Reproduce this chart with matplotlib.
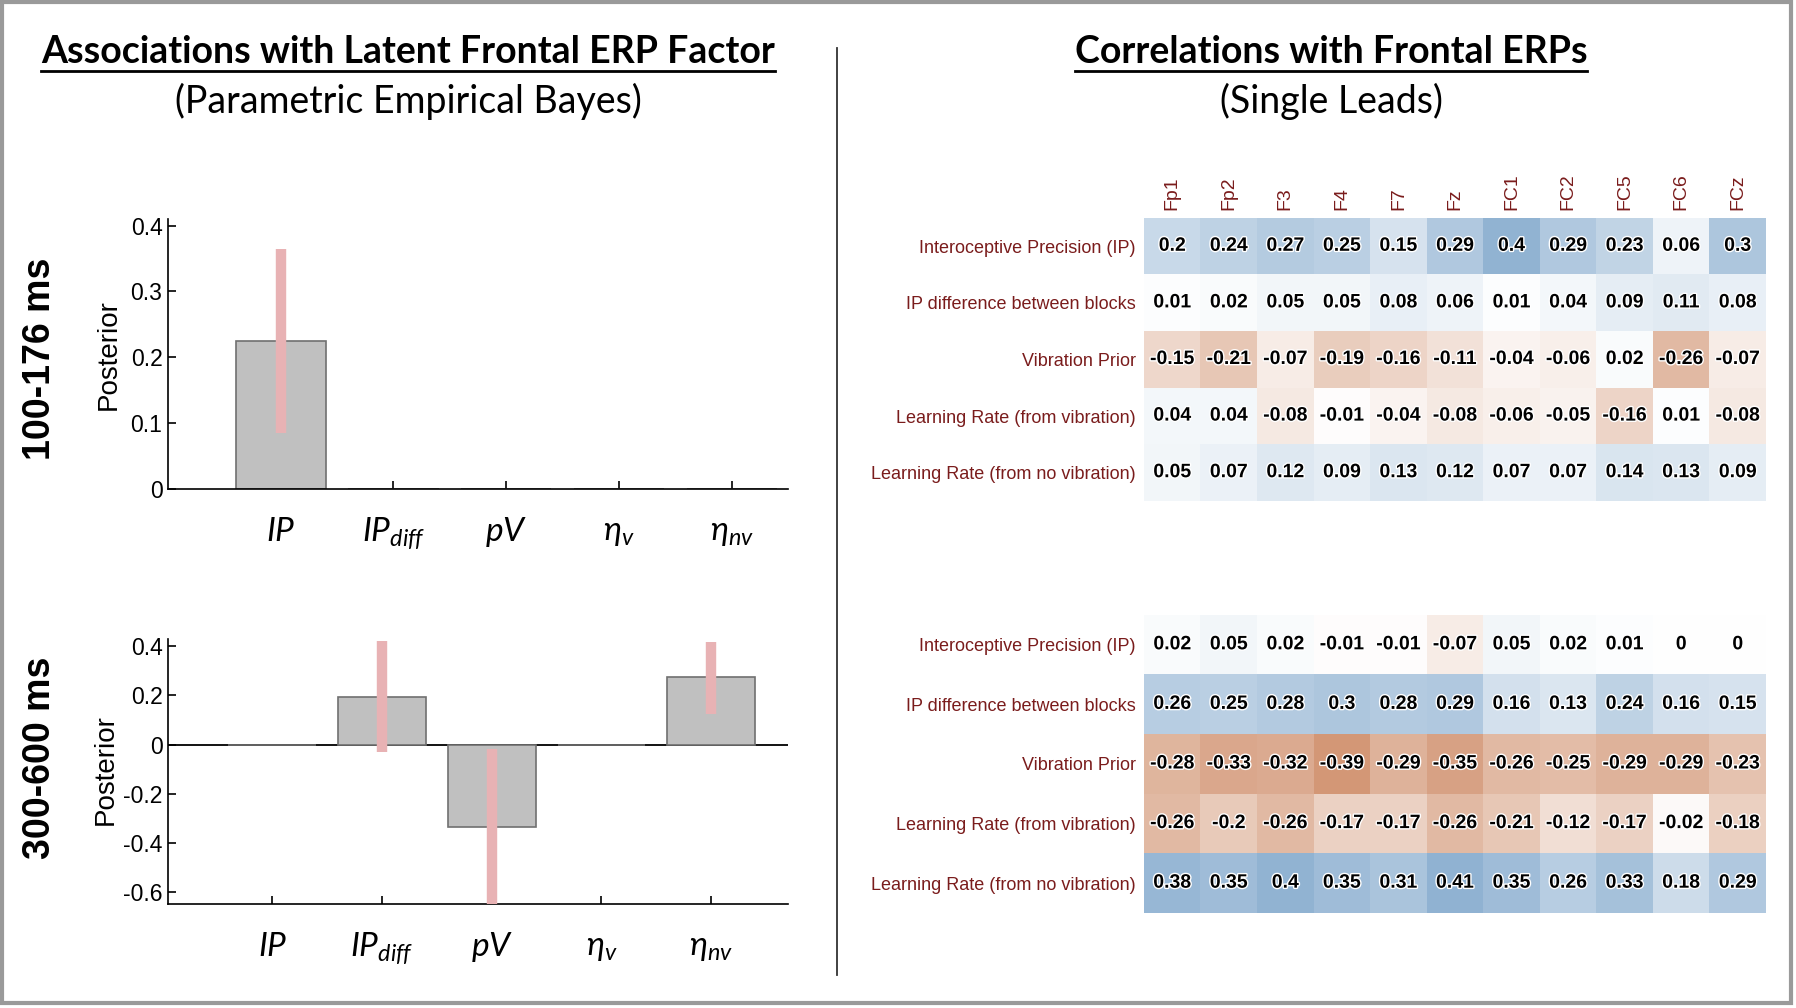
import matplotlib
matplotlib.use("Agg")
import matplotlib.pyplot as plt
import matplotlib.patheffects as pe
from matplotlib.colors import LinearSegmentedColormap
from matplotlib.lines import Line2D
from matplotlib.patches import Rectangle
import numpy as np

# --- data ---
params = [r'$IP$', r'$IP_{diff}$', r'$pV$', r'$\eta_v$', r'$\eta_{nv}$']

early_post = [0.225, 0, 0, 0, 0]
early_lo = [0.085, np.nan, np.nan, np.nan, np.nan]
early_hi = [0.365, np.nan, np.nan, np.nan, np.nan]

late_post = [0, 0.195, -0.337, 0, 0.274]
late_lo = [np.nan, -0.032, -0.66, np.nan, 0.125]
late_hi = [np.nan, 0.42, -0.018, np.nan, 0.418]

leads = ["Fp1", "Fp2", "F3", "F4", "F7", "Fz", "FC1", "FC2", "FC5", "FC6", "FCz"]
measures = ["Interoceptive Precision (IP)", "IP difference between blocks",
            "Vibration Prior", "Learning Rate (from vibration)",
            "Learning Rate (from no vibration)"]

r_early = [
    [0.2, 0.24, 0.27, 0.25, 0.15, 0.29, 0.4, 0.29, 0.23, 0.06, 0.3],
    [0.01, 0.02, 0.05, 0.05, 0.08, 0.06, 0.01, 0.04, 0.09, 0.11, 0.08],
    [-0.15, -0.21, -0.07, -0.19, -0.16, -0.11, -0.04, -0.06, 0.02, -0.26, -0.07],
    [0.04, 0.04, -0.08, -0.01, -0.04, -0.08, -0.06, -0.05, -0.16, 0.01, -0.08],
    [0.05, 0.07, 0.12, 0.09, 0.13, 0.12, 0.07, 0.07, 0.14, 0.13, 0.09],
]
r_late = [
    [0.02, 0.05, 0.02, -0.01, -0.01, -0.07, 0.05, 0.02, 0.01, 0, 0],
    [0.26, 0.25, 0.28, 0.3, 0.28, 0.29, 0.16, 0.13, 0.24, 0.16, 0.15],
    [-0.28, -0.33, -0.32, -0.39, -0.29, -0.35, -0.26, -0.25, -0.29, -0.29, -0.23],
    [-0.26, -0.2, -0.26, -0.17, -0.17, -0.26, -0.21, -0.12, -0.17, -0.02, -0.18],
    [0.38, 0.35, 0.4, 0.35, 0.31, 0.41, 0.35, 0.26, 0.33, 0.18, 0.29],
]

# --- style ---
plt.rcParams['mathtext.fontset'] = 'custom'
plt.rcParams['mathtext.it'] = 'Lato:italic'
plt.rcParams['mathtext.rm'] = 'Lato'
ARIAL = ['Liberation Sans', 'DejaVu Sans']
MAROON = '#7a1c1c'
BAR_C = '#c0c0c0'
ERR_C = '#e8b2b4'

cmap = LinearSegmentedColormap.from_list(
    'ob', [(0.0, '#af4105'), (0.5, '#ffffff'), (1.0, '#3c78b0')])

fig = plt.figure(figsize=(17.96, 10.08), dpi=100)
W, H = 1796, 1008


def fx(px):
    return px / W


def fy(py):
    return 1 - py / H


def bar_panel(rect, vals, lo, hi, ylim, yticks, xlim):
    ax = fig.add_axes(rect)
    x = np.arange(1, 6)
    if ylim[0] < 0:
        ax.axhline(0, color='k', lw=1.3, zorder=1)
    ax.bar(x, vals, width=0.8, color=BAR_C, edgecolor='#707070', lw=1.2, zorder=2)
    ax.vlines(x, lo, hi, color=ERR_C, lw=7.5, zorder=3)
    ax.set_xlim(*xlim)
    ax.set_ylim(*ylim)
    ax.spines[['top', 'right']].set_visible(False)
    ax.spines[['left', 'bottom']].set_linewidth(1.2)
    ax.set_yticks(yticks)
    ax.set_yticklabels([f'{t:g}' for t in yticks], family=ARIAL, fontsize=16.5)
    ax.set_xticks(x)
    ax.set_xticklabels(params, fontsize=24)
    ax.tick_params(axis='both', direction='in', length=6, width=1.2)
    ax.tick_params(axis='y', pad=4)
    ax.tick_params(axis='x', pad=19)
    return ax


bar_panel([fx(168), fy(489), fx(788) - fx(168), fy(219) - fy(489)],
          early_post, early_lo, early_hi, (0, 0.41), [0, 0.1, 0.2, 0.3, 0.4], (0, 5.5))
bar_panel([fx(168), fy(904), fx(788) - fx(168), fy(639) - fy(904)],
          late_post, late_lo, late_hi, (-0.65, 0.43),
          [-0.6, -0.4, -0.2, 0, 0.2, 0.4], (0.05, 5.7))

fig.text(fx(109), fy(355), 'Posterior', rotation=90, ha='center', va='center',
         family=ARIAL, fontsize=20)
fig.text(fx(106), fy(770), 'Posterior', rotation=90, ha='center', va='center',
         family=ARIAL, fontsize=20)
fig.text(fx(40), fy(359), '100-176 ms', rotation=90, ha='center', va='center',
         family=ARIAL, fontsize=27, fontweight='bold')
fig.text(fx(40), fy(758), '300-600 ms', rotation=90, ha='center', va='center',
         family=ARIAL, fontsize=27, fontweight='bold')


def heat_panel(rect, data, show_cols):
    ax = fig.add_axes(rect)
    arr = np.array(data)
    ax.imshow(arr, cmap=cmap, vmin=-0.72, vmax=0.72, aspect='auto',
              interpolation='nearest')
    for i in range(arr.shape[0]):
        for j in range(arr.shape[1]):
            ax.text(j, i, f'{arr[i, j]:g}', ha='center', va='center',
                    family=ARIAL, fontsize=14, fontweight='bold', color='k',
                    path_effects=[pe.withStroke(linewidth=2, foreground='white')])
    ax.set_yticks(range(len(measures)))
    ax.set_yticklabels(measures, family=ARIAL, fontsize=13, color=MAROON)
    if show_cols:
        ax.xaxis.tick_top()
        ax.set_xticks(range(len(leads)))
        ax.set_xticklabels(leads, rotation=90, family=ARIAL, fontsize=14,
                           color=MAROON)
    else:
        ax.set_xticks([])
    ax.tick_params(length=0, pad=6)
    for s in ax.spines.values():
        s.set_visible(False)
    return ax


heat_panel([fx(1144), fy(501), fx(1766) - fx(1144), fy(218) - fy(501)], r_early, True)
heat_panel([fx(1144), fy(913), fx(1766) - fx(1144), fy(615) - fy(913)], r_late, False)

# titles
titles = [
    (408, 'Associations with Latent Frontal ERP Factor', '(Parametric Empirical Bayes)'),
    (1331, 'Correlations with Frontal ERPs', '(Single Leads)'),
]
heads = []
for cx, t1, t2 in titles:
    h = fig.text(fx(cx), fy(52), t1, ha='center', va='center', family=['Lato'],
                 fontsize=27, fontweight='bold')
    fig.text(fx(cx), fy(101), t2, ha='center', va='center', family=['Lato'],
             fontsize=27)
    heads.append(h)

fig.canvas.draw()
for h in heads:
    bb = h.get_window_extent().transformed(fig.transFigure.inverted())
    fig.add_artist(Line2D([bb.x0, bb.x1], [fy(71)] * 2, color='k', lw=2,
                          transform=fig.transFigure))

# divider and frame
fig.add_artist(Line2D([fx(837)] * 2, [fy(48), fy(975)], color='#333333', lw=1.3,
                      transform=fig.transFigure))
fig.add_artist(Rectangle((fx(2), fy(1003)), fx(1789), fy(2) - fy(1003), fill=False,
                         ec='#9a9a9a', lw=3, transform=fig.transFigure))

fig.savefig('out.png', dpi=100)
